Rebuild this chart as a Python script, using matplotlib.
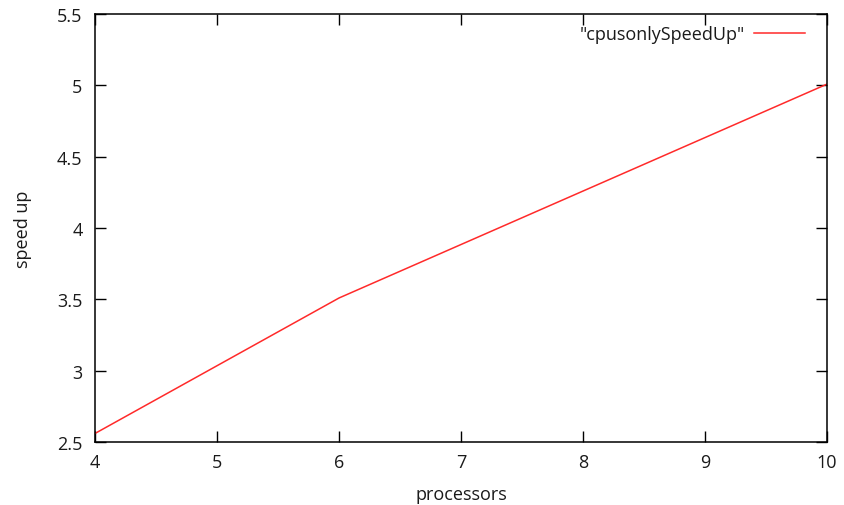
import matplotlib
matplotlib.use('Agg')
import matplotlib.pyplot as plt

# speed up measured for each processor count
processors = [4, 6, 8, 10]
speedup = [2.56, 3.51, 4.26, 5.01]

xticks = [4, 5, 6, 7, 8, 9, 10]
yticks = [2.5, 3, 3.5, 4, 4.5, 5, 5.5]

plt.rcParams['font.family'] = ['Open Sans', 'DejaVu Sans']
plt.rcParams['font.size'] = 13

fig = plt.figure(figsize=(8.44, 5.06), dpi=100)
ax = fig.add_axes([0.1126, 0.1245, 0.8674, 0.8455])

ax.plot(processors, speedup, color='#ff2a2a', lw=1.1, label='"cpusonlySpeedUp"')

ax.set_xlim(4, 10)
ax.set_ylim(2.5, 5.5)
ax.set_xticks(xticks)
ax.set_yticks(yticks)
ax.set_xticklabels([str(t) for t in xticks])
ax.set_yticklabels(['2.5', '3', '3.5', '4', '4.5', '5', '5.5'])
ax.tick_params(direction='in', length=8, width=1, top=True, right=True,
               colors='black', labelcolor='#1a1a1a', pad=9)
ax.tick_params(axis='x', pad=8)
for s in ax.spines.values():
    s.set_linewidth(1.1)

ax.set_xlabel('processors', color='#1a1a1a', labelpad=10)
ax.set_ylabel('speed up', color='#1a1a1a', labelpad=18)

ax.legend(loc='upper right', frameon=False, markerfirst=False, handlelength=2.8,
          handletextpad=0.55, borderaxespad=0.0, bbox_to_anchor=(0.9795, 0.992),
          labelcolor='#1a1a1a')

fig.savefig('out.png', dpi=100)
